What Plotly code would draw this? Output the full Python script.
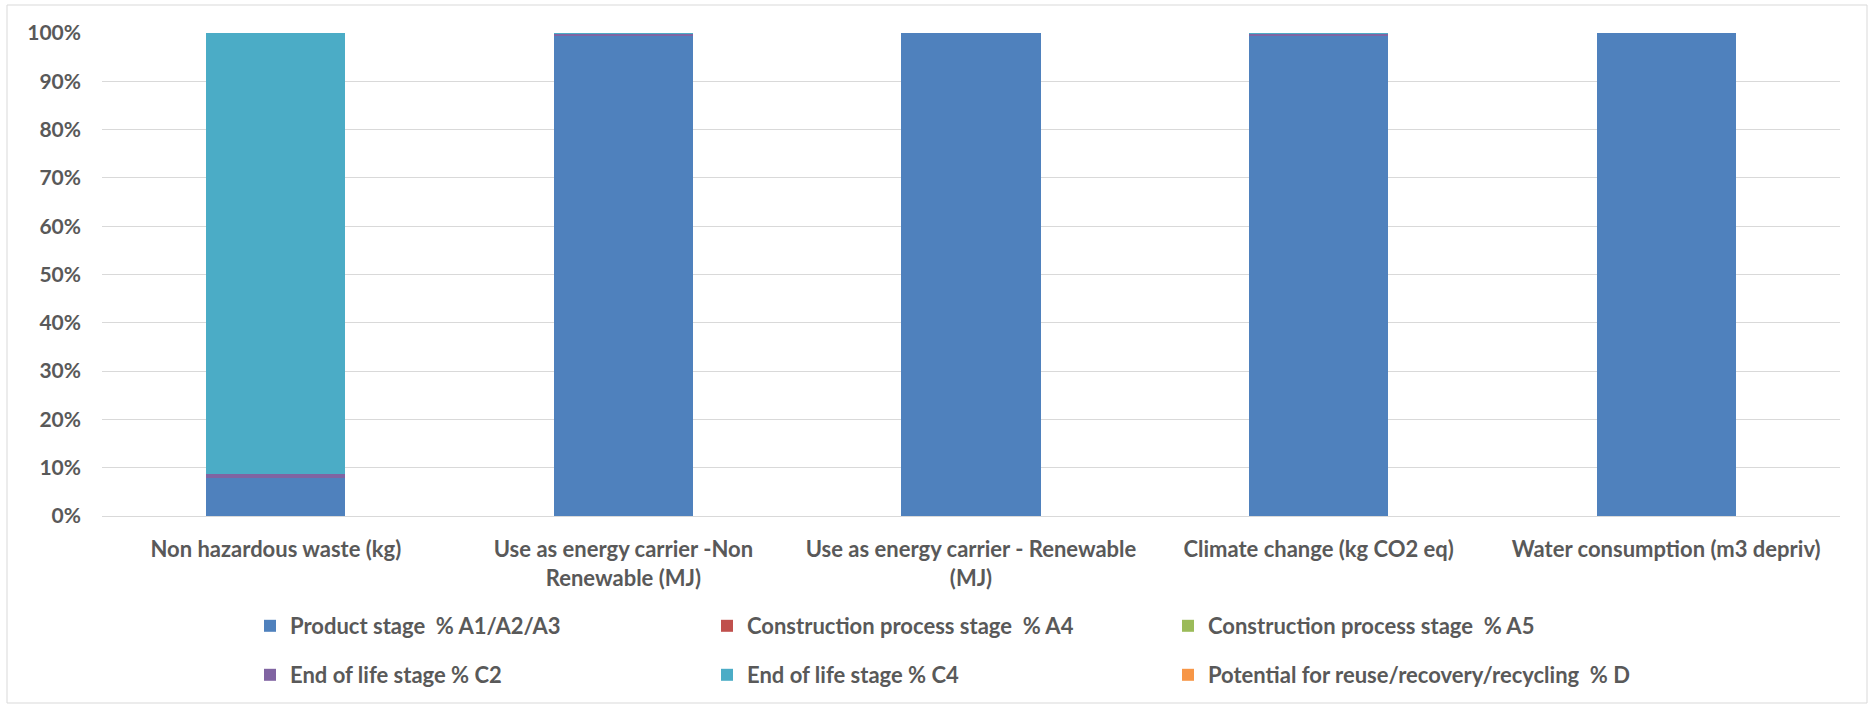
import plotly.graph_objects as go

categories = [
    "Non hazardous waste (kg)",
    "Use as energy carrier -Non<br>Renewable (MJ)",
    "Use as energy carrier - Renewable<br>(MJ)",
    "Climate change (kg CO2 eq)",
    "Water consumption (m3 depriv)",
]
series_names = [
    "Product stage  % A1/A2/A3",
    "Construction process stage  % A4",
    "Construction process stage  % A5",
    "End of life stage % C2",
    "End of life stage % C4",
    "Potential for reuse/recovery/recycling  % D",
]
product_a1a3 = [7.9, 99.4, 100.0, 99.4, 100.0]
constr_a4 = [0.0, 0.0, 0.0, 0.0, 0.0]
constr_a5 = [0.0, 0.0, 0.0, 0.0, 0.0]
eol_c2 = [0.7, 0.4, 0.0, 0.4, 0.0]
eol_c4 = [91.4, 0.2, 0.0, 0.2, 0.0]
reuse_d = [0.0, 0.0, 0.0, 0.0, 0.0]
y_ticks = [0, 10, 20, 30, 40, 50, 60, 70, 80, 90, 100]
y_tick_labels = [f"{v}%" for v in y_ticks]

values = [product_a1a3, constr_a4, constr_a5, eol_c2, eol_c4, reuse_d]
colors = ["#4F81BD", "#C0504D", "#9BBB59", "#8064A2", "#4BACC6", "#F79646"]

FONT = "Lato"
TXT = "#595959"
FS = 22
FS_Y = 21

W, H = 1874, 708
L, R, T, B = 102, 34, 33, 192
pw, ph = W - L - R, H - T - B

def px_x(x):
    return (x - L) / pw

def px_y(y):
    return (H - B - y) / ph

# legend grid: 3 columns x 2 rows (pixel anchors of each legend box)
legend_cols_px = [250, 707, 1168]
legend_rows_px = [626, 675]

fig = go.Figure()
legend_layout = {}
for i, (name, vals, col) in enumerate(zip(series_names, values, colors)):
    key = "legend" if i == 0 else f"legend{i + 1}"
    fig.add_trace(go.Bar(
        x=categories, y=vals, name=name,
        marker=dict(color=col, line=dict(width=0)),
        legend=key, showlegend=True,
    ))
    r, c = divmod(i, 3)
    legend_layout[key] = dict(
        x=px_x(legend_cols_px[c]), y=px_y(legend_rows_px[r]),
        xanchor="left", yanchor="middle",
        orientation="h", traceorder="normal",
        font=dict(family=FONT, size=FS, color=TXT, weight="bold"),
        bgcolor="rgba(0,0,0,0)", itemclick=False, itemdoubleclick=False,
    )

fig.update_layout(
    width=W, height=H,
    margin=dict(l=L, r=R, t=T, b=B),
    paper_bgcolor="white", plot_bgcolor="white",
    showlegend=True,
    barmode="stack", bargap=0.6,
    font=dict(family=FONT, color=TXT, size=FS, weight="bold"),
    xaxis=dict(
        showgrid=False, showline=False, ticks="",
        tickfont=dict(family=FONT, size=FS, color=TXT, weight="bold"),
        ticklabelstandoff=18,
    ),
    yaxis=dict(
        range=[0, 100], tickvals=y_ticks, ticktext=y_tick_labels,
        showgrid=True, gridcolor="#D9D9D9", gridwidth=1,
        zeroline=True, zerolinecolor="#D9D9D9", zerolinewidth=1,
        showline=False, ticks="",
        tickfont=dict(family=FONT, size=FS_Y, color=TXT, weight="bold"),
        ticklabelstandoff=20,
    ),
    shapes=[dict(
        type="rect", xref="paper", yref="paper",
        x0=px_x(7), x1=px_x(1867), y0=px_y(703), y1=px_y(5),
        line=dict(color="#D9D9D9", width=1), fillcolor="rgba(0,0,0,0)",
        layer="below",
    )],
    **legend_layout,
)

fig.write_html("out.html")
